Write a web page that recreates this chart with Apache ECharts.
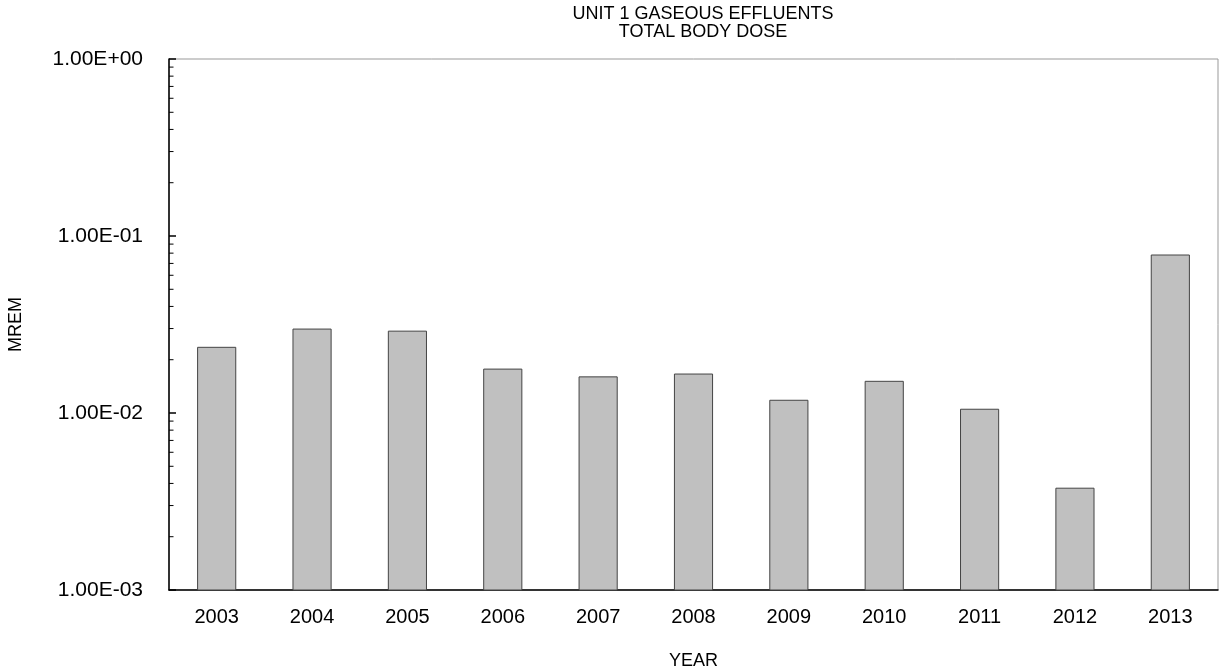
<!DOCTYPE html>
<html>
<head>
<meta charset="utf-8">
<script src="https://cdn.jsdelivr.net/npm/echarts@6/dist/echarts.min.js"></script>
<style>
html,body{margin:0;padding:0;background:#fff;}
#chart{width:1221px;height:671px;}
</style>
</head>
<body>
<div id="chart"></div>
<script>
const titleLines = ['UNIT 1 GASEOUS EFFLUENTS', 'TOTAL BODY DOSE'];
const years = ['2003','2004','2005','2006','2007','2008','2009','2010','2011','2012','2013'];
const doseValues = [0.0235, 0.0298, 0.0290, 0.0177, 0.0160, 0.0166, 0.0118, 0.0151, 0.0105, 0.00376, 0.0781];
const yMin = 0.001;
const yMax = 1;
const minorTickValues = [
  0.002,0.003,0.004,0.005,0.006,0.007,0.008,0.009,
  0.02,0.03,0.04,0.05,0.06,0.07,0.08,0.09,
  0.2,0.3,0.4,0.5,0.6,0.7,0.8,0.9
];
const yAxisName = 'MREM';
const xAxisName = 'YEAR';

const FONT = '"Liberation Sans", Arial, sans-serif';

function fmtSci(v) {
  const e = Math.round(Math.log10(v));
  const m = v / Math.pow(10, e);
  return m.toFixed(2) + 'E' + (e < 0 ? '-' : '+') + String(Math.abs(e)).padStart(2, '0');
}

const chart = echarts.init(document.getElementById('chart'), null, {renderer: 'canvas'});
chart.setOption({
  animation: false,
  backgroundColor: '#fff',
  title: {
    text: titleLines.join('\n'),
    left: 698,
    textAlign: 'center',
    top: 0,
    textStyle: {fontFamily: FONT, fontSize: 18, fontWeight: 'normal', color: '#000', lineHeight: 18}
  },
  grid: {
    left: 169, right: 3, top: 59, bottom: 81,
    outerBoundsMode: 'none',
    containLabel: false,
    show: true, borderColor: '#999', borderWidth: 1, backgroundColor: 'transparent'
  },
  xAxis: {
    type: 'category',
    data: years,
    name: xAxisName,
    nameLocation: 'middle',
    nameGap: 62,
    nameTextStyle: {fontFamily: FONT, fontSize: 18, color: '#000'},
    axisLine: {lineStyle: {color: '#000', width: 1.5}},
    axisTick: {show: false},
    axisLabel: {fontFamily: FONT, fontSize: 20, color: '#000', margin: 17},
    splitLine: {show: false}
  },
  yAxis: {
    type: 'log',
    min: yMin,
    max: yMax,
    logBase: 10,
    name: yAxisName,
    nameLocation: 'middle',
    nameGap: 144,
    nameRotate: 90,
    nameTextStyle: {fontFamily: FONT, fontSize: 18, color: '#000'},
    axisLine: {show: true, lineStyle: {color: '#000', width: 1.5}},
    axisTick: {show: true, inside: true, length: 7, lineStyle: {color: '#000', width: 1.5}},
    axisLabel: {fontFamily: FONT, fontSize: 21, color: '#000', margin: 26, formatter: fmtSci},
    splitLine: {show: false}
  },
  series: [
    {
      type: 'custom',
      coordinateSystem: 'cartesian2d',
      data: doseValues.map((v, i) => [i, v]),
      encode: {x: 0, y: 1},
      renderItem: function (params, api) {
        const top = api.coord([api.value(0), api.value(1)]);
        const base = api.coord([api.value(0), yMin]);
        const w = api.size([1, 0])[0] * 0.4;
        return {
          type: 'rect',
          shape: {x: top[0] - w / 2, y: top[1], width: w, height: base[1] - top[1]},
          style: {fill: '#c0c0c0', stroke: '#444', lineWidth: 1}
        };
      },
      z: 2
    },
    {
      type: 'custom',
      coordinateSystem: 'cartesian2d',
      silent: true,
      data: minorTickValues.map(v => [0, v]),
      encode: {x: 0, y: 1},
      renderItem: function (params, api) {
        const p = api.coord([0, api.value(1)]);
        const x0 = params.coordSys.x;
        return {
          type: 'line',
          shape: {x1: x0, y1: p[1], x2: x0 + 4.5, y2: p[1]},
          style: {stroke: '#000', lineWidth: 1}
        };
      },
      z: 5
    }
  ]
});
</script>
</body>
</html>
